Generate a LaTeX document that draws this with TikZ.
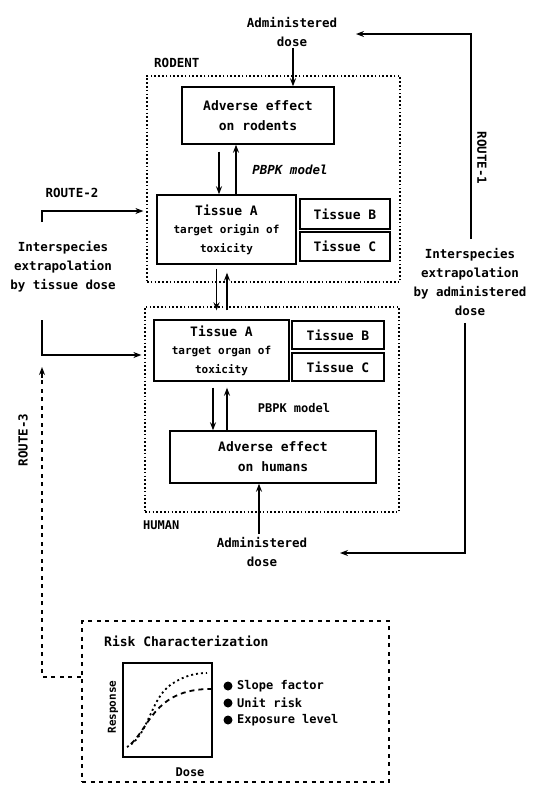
\documentclass[tikz,border=0pt]{standalone}
\usepackage{fontspec}
\setmainfont{DejaVu Sans Mono}
\usetikzlibrary{arrows.meta}
\begin{document}
\begin{tikzpicture}[x=1pt,y=-1pt,
  every node/.style={font=\bfseries\fontsize{12.5}{19}\selectfont, inner sep=1pt, align=center},
  solidbox/.style={draw, line width=1.4pt, inner sep=0pt},
  dotbox/.style={draw, line width=1.2pt, dash pattern=on 1.6pt off 2.2pt, inner sep=0pt},
  riskbox/.style={draw, line width=2.6pt, dash pattern=on 4pt off 4.5pt, inner sep=0pt},
  arr/.style={line width=1.3pt, -{Stealth[length=8pt,width=6pt]}},
  bigtxt/.style={font=\bfseries\fontsize{13}{20}\selectfont},
  bullet/.style={circle, fill=black, minimum size=9pt, inner sep=0pt}
]
\useasboundingbox (0,0) rectangle (533,785);

% ---------- rodent ----------
\node (dose1) at (292,32) {Administered\\dose};
\node[anchor=west, font=\bfseries\fontsize{12.5}{14}\selectfont] (rodlbl) at (153,63) {RODENT};
\node[dotbox, minimum width=253, minimum height=206] (rodent) at (273.5,179) {};
\node[solidbox, bigtxt, minimum width=152, minimum height=57] (advR) at (258,115.5) {Adverse effect\\on rodents};
\node[solidbox, minimum width=139, minimum height=69] (tisAR) at (226.5,229.5)
  {\fontsize{13}{17}\selectfont Tissue A\\[-1pt]\fontsize{11}{16}\selectfont target origin of\\\fontsize{11}{16}\selectfont toxicity};
\node[solidbox, bigtxt, minimum width=90, minimum height=30] (tisBR) at (345,214) {Tissue B};
\node[solidbox, bigtxt, minimum width=90, minimum height=29] (tisCR) at (345,246.5) {Tissue C};
\node[font=\bfseries\itshape\fontsize{12.5}{14}\selectfont] (pbpkR) at (290,170) {PBPK model};

% ---------- human ----------
\node[dotbox, minimum width=254, minimum height=205] (human) at (272,409.5) {};
\node[solidbox, minimum width=135, minimum height=61] (tisAH) at (221.5,350.5)
  {\fontsize{13}{17}\selectfont Tissue A\\[-1pt]\fontsize{11}{16}\selectfont target organ of\\\fontsize{11}{16}\selectfont toxicity};
\node[solidbox, bigtxt, minimum width=92, minimum height=28] (tisBH) at (338,335) {Tissue B};
\node[solidbox, bigtxt, minimum width=92, minimum height=28] (tisCH) at (338,367) {Tissue C};
\node[font=\bfseries\fontsize{12}{14}\selectfont] (pbpkH) at (294,408) {PBPK model};
\node[solidbox, bigtxt, minimum width=206, minimum height=52] (advH) at (273,457) {Adverse effect\\on humans};
\node[anchor=west, font=\bfseries\fontsize{12}{14}\selectfont] (humlbl) at (142,525) {HUMAN};
\node (dose2) at (262,552) {Administered\\dose};

% ---------- side texts ----------
\node (ltext) at (63,267) {Interspecies\\extrapolation\\by tissue dose};
\node (r2lbl) at (72,193) {ROUTE-2};
\node (rtext) at (470,282) {Interspecies\\extrapolation\\by administered\\dose};
\node[rotate=-90] (r1lbl) at (482,158) {ROUTE-1};
\node[rotate=90] (r3lbl) at (23,440) {ROUTE-3};

% ---------- risk characterization ----------
\node[riskbox, minimum width=307, minimum height=161] (risk) at (235.5,701.5) {};
\node[anchor=west, bigtxt] (risktitle) at (103,641) {Risk Characterization};
\node[solidbox, minimum width=89, minimum height=94] (graph) at (167.5,710) {};
\node[rotate=90, font=\bfseries\fontsize{11}{13}\selectfont] (resp) at (113,707) {Response};
\node[font=\bfseries\fontsize{12}{14}\selectfont] (dosex) at (190,772) {Dose};
\node[bullet] (b1) at (228,686) {};
\node[bullet] (b2) at (228,703) {};
\node[bullet] (b3) at (228,720) {};
\node[anchor=west, font=\bfseries\fontsize{12}{14}\selectfont] (t1) at (236,686) {Slope factor};
\node[anchor=west, font=\bfseries\fontsize{12}{14}\selectfont] (t2) at (236,703) {Unit risk};
\node[anchor=west, font=\bfseries\fontsize{12}{14}\selectfont] (t3) at (236,720) {Exposure level};
\draw[line width=1.8pt, dash pattern=on 2pt off 3pt]
  (127,747) .. controls (150,735) and (150,695) .. (175,682) .. controls (185,676) and (195,673) .. (207,673);
\draw[line width=1.8pt, dash pattern=on 5pt off 4pt]
  (131,744) .. controls (145,730) and (150,712) .. (170,699) .. controls (185,690) and (200,689) .. (211,689);

% ---------- arrows inside ----------
\draw[arr] (dose1.south -| 293,0) -- (advR.north -| 293,0);
\draw[arr] ([xshift=-39pt]advR.south) ++(0,7) -- ([xshift=-7.5pt]tisAR.north);
\draw[arr] ([xshift=9.5pt]tisAR.north) -- ([xshift=-22pt]advR.south) ;
\draw[arr, shorten <=4pt, shorten >=9pt] ([xshift=-10pt]tisAR.south) -- ([xshift=-10pt]tisAH.north -| tisAR.south);
\draw[arr, shorten <=9pt, shorten >=8pt] ([xshift=5.5pt]tisAH.north) -- ([xshift=5.5pt]tisAR.south -| tisAH.north);
\draw[arr, shorten <=6pt] ([xshift=-8.5pt]tisAH.south) -- ([xshift=-8.5pt]tisAH.south |- advH.north);
\draw[arr, shorten >=6pt] ([xshift=5.5pt]tisAH.south |- advH.north) -- ([xshift=5.5pt]tisAH.south);
\draw[arr, shorten <=2pt] (dose2.north -| advH.south) ++(-14,0) -- ([xshift=-14pt]advH.south);

% ---------- routes ----------
\coordinate (r2a) at (42,222);
\coordinate (r2b) at (42,320);
\coordinate (r3end) at (42,367);
\coordinate (r1a) at (356,34);
\coordinate (r1b) at (340,553);
\draw[arr, shorten >=3pt] (r2a) |- ([yshift=-32pt]rodent.west);
\draw[arr, shorten >=3pt] (r2b) |- ([yshift=54.5pt]human.west);
\draw[arr] ([yshift=8pt,xshift=1pt]rtext.north) |- (r1a);
\draw[arr] ([yshift=-6pt,xshift=-5pt]rtext.south) |- (r1b);
\draw[line width=2.6pt, dash pattern=on 4pt off 4.5pt] ([yshift=24.5pt]risk.west) -| ([yshift=-12pt]r3end);
\draw[arr] ([yshift=-11pt]r3end) -- (r3end);
\end{tikzpicture}
\end{document}
